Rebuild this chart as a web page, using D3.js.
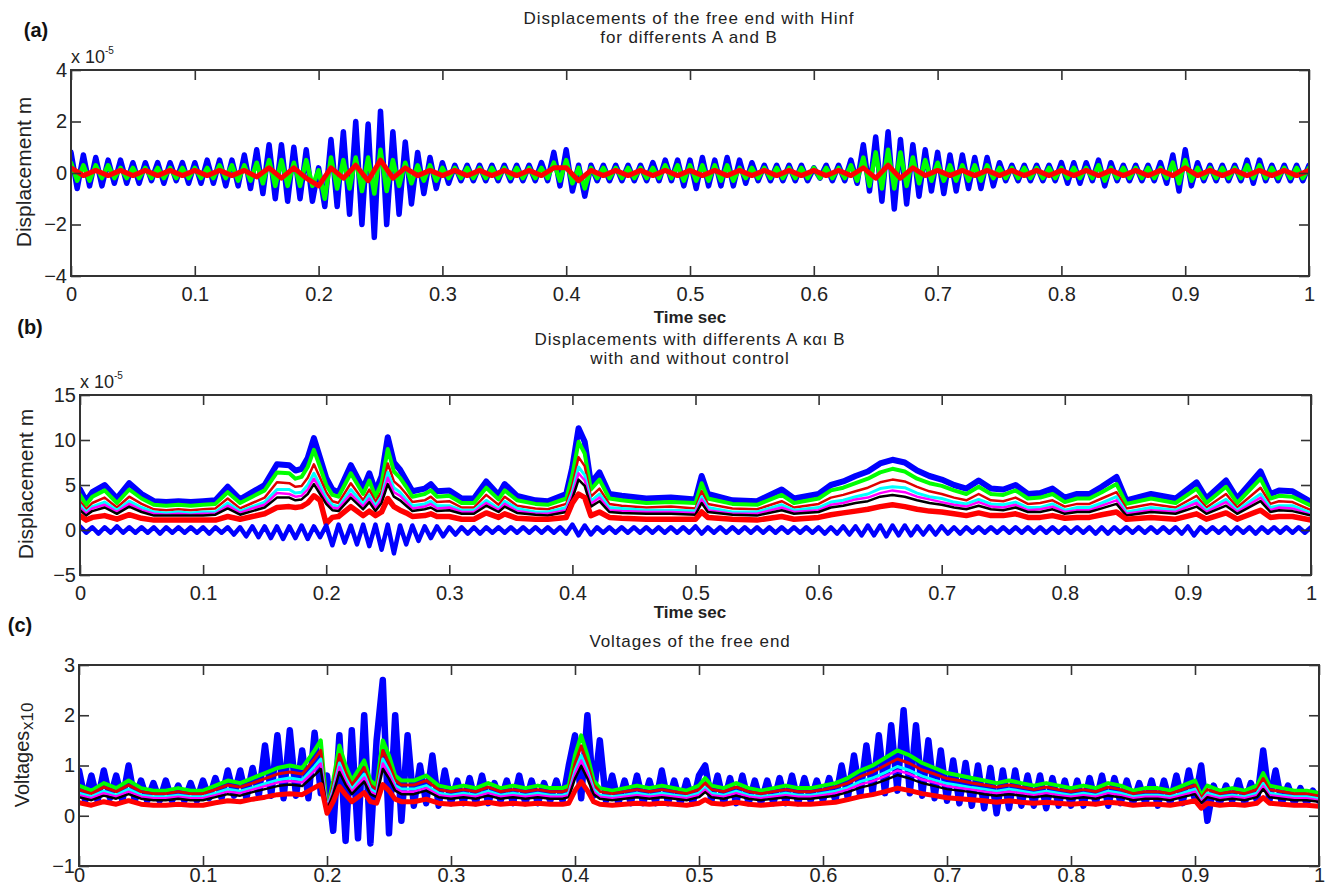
<!DOCTYPE html>
<html><head><meta charset="utf-8">
<script src="https://cdn.jsdelivr.net/npm/d3@7"></script>
<style>
body{margin:0;background:#fff}
svg{display:block}
text{font-family:"Liberation Sans",Arial,sans-serif}
</style>
</head><body>
<svg id="chart" width="1326" height="888"></svg>
<script>
// ---------------- DATA ----------------
const xTickVals = [0,0.1,0.2,0.3,0.4,0.5,0.6,0.7,0.8,0.9,1];
const xTickLabels = ["0","0.1","0.2","0.3","0.4","0.5","0.6","0.7","0.8","0.9","1"];
const aYTicks = [-4,-2,0,2,4];
const aYLabels = ["\u22124","\u22122","0","2","4"];
const bYTicks = [-5,0,5,10,15];
const bYLabels = ["\u22125","0","5","10","15"];
const cYTicks = [-1,0,1,2,3];
const cYLabels = ["\u22121","0","1","2","3"];

// sampling grids (s)
const tFine = d3.range(201).map(i => i * 0.005);
const tCoarse = d3.range(101).map(i => i * 0.01);

// Panel (a): displacement x1e-5 m
const aBlue = [
0.8,-0.6,0.7,-0.5,0.6,-0.5,0.5,-0.4,0.5,-0.4,
0.4,-0.4,0.4,-0.3,0.4,-0.4,0.4,-0.3,0.4,-0.4,
0.4,-0.4,0.5,-0.4,0.5,-0.5,0.5,-0.5,0.7,-0.6,
0.9,-0.8,1.1,-1.0,1.1,-1.1,1.0,-1.0,0.9,-1.1,
0.2,-1.3,1.3,-1.3,1.6,-1.6,2.0,-2.0,1.9,-2.5,
2.4,-2.0,1.6,-1.6,1.2,-1.2,0.8,-0.8,0.6,-0.6,
0.4,-0.4,0.3,-0.3,0.3,-0.3,0.3,-0.3,0.3,-0.3,
0.3,-0.3,0.3,-0.3,0.3,-0.3,0.4,-0.3,0.8,-0.5,
0.9,-0.7,0.3,-0.9,0.3,-0.3,0.3,-0.3,0.3,-0.3,
0.3,-0.3,0.3,-0.3,0.4,-0.3,0.5,-0.3,0.5,-0.5,
0.5,-0.6,0.6,-0.5,0.5,-0.5,0.6,-0.5,0.5,-0.4,
0.4,-0.3,0.3,-0.3,0.3,-0.3,0.3,-0.3,0.3,-0.3,
0.2,-0.2,0.3,-0.3,0.3,-0.3,0.5,-0.4,1.1,-0.7,
1.4,-1.1,1.6,-1.4,1.3,-1.2,1.1,-0.9,0.9,-0.7,
0.8,-0.8,0.7,-0.7,0.7,-0.6,0.6,-0.6,0.6,-0.5,
0.4,-0.3,0.3,-0.3,0.3,-0.3,0.3,-0.3,0.3,-0.3,
0.4,-0.4,0.4,-0.4,0.4,-0.3,0.5,-0.5,0.4,-0.3,
0.3,-0.3,0.3,-0.3,0.3,-0.3,0.4,-0.4,0.7,-0.7,
0.9,-0.5,0.4,-0.3,0.3,-0.3,0.3,-0.3,0.3,-0.3,
0.5,-0.4,0.5,-0.3,0.3,-0.3,0.3,-0.3,0.3,-0.3,
0.3];
const aGreen = [
0.4,-0.3,0.3,-0.3,0.3,-0.2,0.3,-0.2,0.2,-0.2,
0.2,-0.2,0.2,-0.2,0.2,-0.2,0.2,-0.2,0.2,-0.2,
0.2,-0.2,0.2,-0.2,0.3,-0.2,0.3,-0.3,0.3,-0.3,
0.4,-0.4,0.5,-0.5,0.5,-0.5,0.4,-0.5,0.5,-0.5,
0.1,-1.0,0.6,-0.6,0.5,-0.6,0.6,-0.7,0.6,-0.8,
0.9,-0.7,0.5,-0.5,0.4,-0.4,0.3,-0.3,0.3,-0.3,
0.2,-0.2,0.2,-0.2,0.2,-0.2,0.2,-0.2,0.2,-0.2,
0.2,-0.2,0.2,-0.2,0.2,-0.2,0.2,-0.2,0.4,-0.3,
0.5,-0.4,0.2,-0.6,0.2,-0.2,0.2,-0.2,0.2,-0.2,
0.2,-0.2,0.2,-0.2,0.2,-0.2,0.3,-0.2,0.3,-0.3,
0.3,-0.3,0.3,-0.3,0.3,-0.3,0.3,-0.3,0.2,-0.2,
0.2,-0.2,0.2,-0.2,0.2,-0.2,0.2,-0.2,0.2,-0.2,
0.2,-0.2,0.2,-0.2,0.2,-0.2,0.3,-0.3,0.6,-0.5,
0.8,-0.6,0.9,-0.6,0.8,-0.5,0.6,-0.4,0.5,-0.3,
0.4,-0.3,0.3,-0.3,0.3,-0.3,0.3,-0.3,0.3,-0.2,
0.2,-0.2,0.2,-0.2,0.2,-0.2,0.2,-0.2,0.2,-0.2,
0.2,-0.2,0.2,-0.2,0.2,-0.2,0.3,-0.3,0.2,-0.2,
0.2,-0.2,0.2,-0.2,0.2,-0.2,0.2,-0.2,0.4,-0.4,
0.5,-0.3,0.2,-0.2,0.2,-0.2,0.2,-0.2,0.2,-0.2,
0.3,-0.2,0.3,-0.2,0.2,-0.2,0.2,-0.2,0.2,-0.2,
0.2];
const aRed = [
0.2,-0.1,0.1,-0.1,0.1,-0.1,0.1,-0.1,0.1,-0.1,
0.1,-0.1,0.1,-0.1,0.1,-0.15,0.2,-0.2,0.2,-0.2,
-0.5,0.2,-0.2,0.3,-0.3,0.5,-0.2,0.2,-0.1,0.1,
-0.1,0.1,-0.1,0.1,-0.1,0.1,-0.1,0.1,-0.1,0.2,
0.2,-0.3,0.1,-0.1,0.1,-0.1,0.1,-0.1,0.1,-0.1,
0.1,-0.1,0.1,-0.1,0.1,-0.1,0.1,-0.1,0.1,-0.1,
0.1,-0.1,0.1,-0.1,0.2,-0.2,0.3,-0.2,0.2,-0.1,
0.1,-0.1,0.1,-0.1,0.1,-0.1,0.1,-0.1,0.1,-0.1,
0.1,-0.1,0.1,-0.1,0.1,-0.1,0.1,-0.1,0.1,-0.1,
0.2,-0.1,0.1,-0.1,0.1,-0.1,0.1,-0.1,0.1,-0.1,
0.1];

// Panel (b): displacement x1e-5 m, shared time base for the stacked curves
const tB = [
0,0.005,0.01,0.02,0.03,0.04,0.05,0.06,0.07,0.08,
0.09,0.1,0.11,0.12,0.13,0.14,0.15,0.16,0.17,0.175,
0.18,0.185,0.19,0.195,0.2,0.205,0.21,0.22,0.23,0.235,
0.24,0.245,0.25,0.255,0.26,0.265,0.27,0.28,0.285,0.29,
0.3,0.31,0.32,0.33,0.34,0.345,0.355,0.37,0.38,0.395,
0.4,0.405,0.41,0.415,0.422,0.43,0.44,0.46,0.48,0.5,
0.505,0.51,0.53,0.55,0.57,0.58,0.6,0.61,0.62,0.63,
0.64,0.65,0.66,0.67,0.68,0.69,0.7,0.71,0.72,0.73,
0.74,0.75,0.76,0.77,0.78,0.79,0.8,0.81,0.82,0.83,
0.842,0.85,0.87,0.89,0.907,0.915,0.931,0.94,0.959,0.967,
0.974,0.985,1.0];
const bBlueTop = [
4.5,3.2,4.2,5.0,3.5,5.2,4.0,3.2,3.1,3.2,
3.1,3.2,3.3,4.8,3.4,4.2,5.0,7.3,7.2,6.6,
6.8,8.0,10.2,8.0,5.8,4.5,4.2,7.2,4.6,6.3,
4.3,6.0,10.3,7.5,6.7,5.5,4.3,4.6,5.1,4.3,
4.4,3.5,3.5,5.4,3.9,5.1,3.8,3.3,3.2,4.0,
7.0,11.3,9.8,5.2,6.4,4.0,3.8,3.5,3.6,3.4,
6.0,4.0,3.3,3.2,4.5,3.5,4.0,5.0,5.4,6.0,
6.5,7.4,7.8,7.5,6.6,6.0,5.6,5.0,4.6,5.5,
4.6,4.5,5.0,4.0,4.1,4.6,3.6,4.0,4.0,4.8,
5.9,3.3,4.0,3.5,5.3,3.5,5.5,3.5,6.5,4.0,
4.4,4.3,3.1];
const bGreen = [
3.9,2.8,3.7,4.4,3.0,4.5,3.5,2.8,2.7,2.8,
2.7,2.8,2.9,4.2,3.0,3.7,4.4,6.4,6.3,5.7,
5.9,7.0,8.9,7.0,5.0,3.9,3.7,6.3,4.0,5.5,
3.7,5.2,9.0,6.5,5.8,4.8,3.7,4.0,4.4,3.7,
3.8,3.0,3.0,4.7,3.4,4.4,3.3,2.9,2.8,3.5,
6.1,9.8,8.5,4.5,5.6,3.5,3.3,3.0,3.1,3.0,
5.2,3.5,2.9,2.8,3.9,3.0,3.5,4.4,4.7,5.2,
5.7,6.4,6.8,6.5,5.7,5.2,4.9,4.4,4.0,4.8,
4.0,3.9,4.4,3.5,3.6,4.0,3.1,3.5,3.5,4.2,
5.1,2.9,3.5,3.0,4.6,3.0,4.8,3.0,5.7,3.5,
3.8,3.7,2.7];
const bDarkRed = [
3.2,2.3,3.0,3.6,2.5,3.7,2.9,2.3,2.2,2.3,
2.2,2.3,2.4,3.5,2.4,3.0,3.6,5.3,5.2,4.8,
4.9,5.8,7.3,5.8,4.2,3.2,3.0,5.2,3.3,4.5,
3.1,4.3,7.4,5.4,4.8,4.0,3.1,3.3,3.7,3.1,
3.2,2.5,2.5,3.9,2.8,3.7,2.7,2.4,2.3,2.9,
5.0,8.1,7.1,3.7,4.6,2.9,2.7,2.5,2.6,2.4,
4.3,2.9,2.4,2.3,3.2,2.5,2.9,3.6,3.9,4.3,
4.7,5.3,5.6,5.4,4.8,4.3,4.0,3.6,3.3,4.0,
3.3,3.2,3.6,2.9,3.0,3.3,2.6,2.9,2.9,3.5,
4.2,2.4,2.9,2.5,3.8,2.5,4.0,2.5,4.7,2.9,
3.2,3.1,2.2];
const bCyan = [
2.8,2.0,2.6,3.1,2.2,3.2,2.5,2.0,1.9,2.0,
1.9,2.0,2.0,3.0,2.1,2.6,3.1,4.5,4.5,4.1,
4.2,5.0,6.3,5.0,3.6,2.8,2.6,4.5,2.9,3.9,
2.7,3.7,6.4,4.7,4.2,3.4,2.7,2.9,3.2,2.7,
2.7,2.2,2.2,3.3,2.4,3.2,2.4,2.0,2.0,2.5,
4.3,7.0,6.1,3.2,4.0,2.5,2.4,2.2,2.2,2.1,
3.7,2.5,2.0,2.0,2.8,2.2,2.5,3.1,3.3,3.7,
4.0,4.6,4.8,4.7,4.1,3.7,3.5,3.1,2.9,3.4,
2.9,2.8,3.1,2.5,2.5,2.9,2.2,2.5,2.5,3.0,
3.7,2.0,2.5,2.2,3.3,2.2,3.4,2.2,4.0,2.5,
2.7,2.7,1.9];
const bMagenta = [
2.5,1.8,2.4,2.8,2.0,2.9,2.2,1.8,1.7,1.8,
1.7,1.8,1.8,2.7,1.9,2.4,2.8,4.1,4.0,3.7,
3.8,4.5,5.7,4.5,3.2,2.5,2.4,4.0,2.6,3.5,
2.4,3.4,5.8,4.2,3.8,3.1,2.4,2.6,2.9,2.4,
2.5,2.0,2.0,3.0,2.2,2.9,2.1,1.8,1.8,2.2,
3.9,6.3,5.5,2.9,3.6,2.2,2.1,2.0,2.0,1.9,
3.4,2.2,1.8,1.8,2.5,2.0,2.2,2.8,3.0,3.4,
3.6,4.1,4.4,4.2,3.7,3.4,3.1,2.8,2.6,3.1,
2.6,2.5,2.8,2.2,2.3,2.6,2.0,2.2,2.2,2.7,
3.3,1.8,2.2,2.0,3.0,2.0,3.1,2.0,3.6,2.2,
2.5,2.4,1.7];
const bBlack = [
2.2,1.6,2.1,2.5,1.8,2.6,2.0,1.6,1.6,1.6,
1.6,1.6,1.7,2.4,1.7,2.1,2.5,3.6,3.6,3.3,
3.4,4.0,5.1,4.0,2.9,2.2,2.1,3.6,2.3,3.1,
2.1,3.0,5.1,3.7,3.3,2.7,2.1,2.3,2.5,2.1,
2.2,1.8,1.8,2.7,2.0,2.6,1.9,1.7,1.6,2.0,
3.5,5.6,4.9,2.6,3.2,2.0,1.9,1.8,1.8,1.7,
3.0,2.0,1.7,1.6,2.2,1.8,2.0,2.5,2.7,3.0,
3.2,3.7,3.9,3.7,3.3,3.0,2.8,2.5,2.3,2.7,
2.3,2.2,2.5,2.0,2.0,2.3,1.8,2.0,2.0,2.4,
2.9,1.6,2.0,1.8,2.6,1.8,2.7,1.8,3.2,2.0,
2.2,2.1,1.6];
const bRed = [
1.6,1.1,1.4,1.6,1.2,1.7,1.3,1.1,1.1,1.1,
1.1,1.1,1.1,1.5,1.2,1.5,1.8,2.5,2.6,2.5,
2.6,3.0,3.8,3.3,0.7,1.4,1.5,2.6,1.6,2.1,
1.6,2.0,3.5,2.6,2.2,1.9,1.5,1.6,1.8,1.5,
1.5,1.2,1.2,1.9,1.4,1.8,1.3,1.2,1.2,1.4,
3.0,4.0,3.6,1.6,2.0,1.4,1.3,1.2,1.2,1.2,
2.0,1.4,1.2,1.1,1.5,1.2,1.4,1.7,1.9,2.1,
2.3,2.6,2.8,2.6,2.3,2.1,2.0,1.8,1.6,1.9,
1.6,1.6,1.8,1.4,1.4,1.6,1.3,1.4,1.4,1.7,
2.0,1.2,1.4,1.2,1.8,1.2,1.9,1.2,2.2,1.4,
1.5,1.5,1.1];
const bBlueZero = [
0.4,-0.3,0.3,-0.4,0.3,-0.3,0.4,-0.3,0.3,-0.3,
0.3,-0.3,0.3,-0.4,0.3,-0.3,0.3,-0.3,0.3,-0.3,
0.3,-0.4,0.3,-0.3,0.3,-0.5,0.3,-0.7,0.4,-0.8,
0.4,-0.9,0.4,-1.0,0.4,-0.9,0.5,-1.0,0.4,-0.8,
0.5,-1.7,0.6,-1.4,0.5,-1.6,0.6,-1.8,0.6,-2.2,
0.6,-2.6,0.5,-1.6,0.5,-1.2,0.4,-0.9,0.4,-0.7,
0.3,-0.5,0.3,-0.4,0.3,-0.4,0.3,-0.3,0.3,-0.3,
0.3,-0.3,0.3,-0.3,0.3,-0.3,0.3,-0.3,0.3,-0.4,
0.6,-0.6,0.5,-0.5,0.3,-0.3,0.3,-0.3,0.3,-0.3,
0.3,-0.3,0.3,-0.3,0.3,-0.3,0.3,-0.3,0.3,-0.3,
0.4,-0.4,0.3,-0.3,0.3,-0.3,0.3,-0.3,0.3,-0.3,
0.3,-0.3,0.3,-0.3,0.3,-0.3,0.3,-0.3,0.3,-0.3,
0.3,-0.4,0.3,-0.4,0.4,-0.5,0.4,-0.6,0.5,-0.6,
0.5,-0.7,0.5,-0.6,0.5,-0.6,0.4,-0.5,0.4,-0.5,
0.4,-0.4,0.3,-0.4,0.3,-0.3,0.3,-0.3,0.3,-0.3,
0.3,-0.3,0.3,-0.3,0.3,-0.3,0.3,-0.3,0.3,-0.3,
0.3,-0.3,0.3,-0.3,0.3,-0.4,0.3,-0.4,0.3,-0.3,
0.3,-0.3,0.3,-0.3,0.3,-0.3,0.3,-0.3,0.3,-0.4,
0.4,-0.6,0.3,-0.3,0.3,-0.3,0.3,-0.4,0.3,-0.3,
0.3,-0.4,0.3,-0.3,0.3,-0.3,0.3,-0.3,0.3,-0.3,
0.3];

// Panel (c): voltages x10, shared time base for the stacked curves
const tC = [
0,0.01,0.02,0.03,0.04,0.05,0.06,0.07,0.08,0.09,
0.1,0.11,0.12,0.13,0.14,0.15,0.16,0.17,0.18,0.19,
0.195,0.2,0.205,0.21,0.215,0.22,0.225,0.23,0.235,0.24,
0.245,0.25,0.255,0.26,0.27,0.28,0.29,0.3,0.31,0.32,
0.33,0.34,0.35,0.36,0.37,0.38,0.39,0.395,0.4,0.405,
0.41,0.415,0.42,0.43,0.44,0.45,0.46,0.47,0.48,0.49,
0.5,0.505,0.51,0.52,0.53,0.54,0.55,0.56,0.57,0.58,
0.59,0.6,0.61,0.62,0.63,0.64,0.65,0.66,0.67,0.68,
0.69,0.7,0.71,0.72,0.73,0.74,0.75,0.76,0.77,0.78,
0.79,0.8,0.81,0.82,0.83,0.84,0.85,0.86,0.87,0.88,
0.89,0.9,0.905,0.91,0.92,0.93,0.94,0.95,0.955,0.96,
0.97,0.98,0.99,1.0];
const cBlue = [
0.9,0.3,0.8,0.3,0.9,0.35,0.8,0.3,1.0,0.3,
0.7,0.3,0.65,0.3,0.7,0.3,0.6,0.3,0.65,0.3,
0.7,0.35,0.75,0.35,0.9,0.4,0.9,0.35,0.95,0.4,
1.4,0.4,1.6,0.35,1.7,0.4,1.3,0.35,1.65,0.45,
0.8,-0.3,1.6,-0.5,1.7,-0.45,2.0,-0.55,1.5,2.7,
-0.35,2.0,-0.1,1.6,0.2,1.0,0.25,1.2,0.2,0.9,
0.25,0.7,0.25,0.75,0.25,0.8,0.25,0.65,0.3,0.7,
0.25,0.8,0.25,0.7,0.25,0.65,0.3,0.7,0.3,1.0,
1.6,0.35,2.0,0.4,1.5,0.3,0.8,0.25,0.7,0.25,
0.8,0.25,0.7,0.25,0.9,0.25,0.7,0.25,0.7,0.25,
0.8,1.0,0.3,0.8,0.25,0.75,0.25,0.8,0.25,0.7,
0.25,0.7,0.25,0.75,0.25,0.8,0.25,0.75,0.3,0.7,
0.3,0.75,0.3,1.0,0.35,1.2,0.4,1.4,0.45,1.6,
0.45,1.8,0.5,2.1,0.45,1.8,0.4,1.5,0.35,1.3,
0.3,1.1,0.25,1.05,0.2,1.0,0.15,0.95,0.05,0.9,
0.15,0.9,0.2,0.8,0.2,0.8,0.15,0.75,0.2,0.7,
0.2,0.7,0.2,0.75,0.25,0.8,0.2,0.75,0.25,0.7,
0.25,0.65,0.25,0.7,0.2,0.7,0.25,0.8,0.25,0.9,
0.3,1.0,-0.1,0.6,0.25,0.6,0.3,0.7,0.25,0.65,
0.3,1.3,0.3,0.9,0.25,0.6,0.25,0.55,0.25,0.5,
0.3];
const cGreen = [
0.6,0.5,0.65,0.55,0.7,0.55,0.5,0.5,0.55,0.5,
0.5,0.6,0.7,0.65,0.75,0.85,0.95,1.0,0.95,1.3,
1.5,0.1,0.7,1.4,1.0,0.7,0.9,1.1,0.7,0.6,
1.5,1.2,0.8,0.7,0.7,0.8,0.6,0.55,0.6,0.55,
0.65,0.55,0.6,0.55,0.6,0.55,0.55,0.6,1.2,1.6,
1.2,0.7,0.55,0.5,0.55,0.6,0.55,0.6,0.55,0.5,
0.6,0.75,0.6,0.55,0.65,0.55,0.5,0.55,0.6,0.55,
0.55,0.6,0.65,0.75,0.9,1.0,1.15,1.3,1.2,1.05,
0.95,0.85,0.8,0.75,0.7,0.65,0.7,0.65,0.6,0.65,
0.6,0.55,0.6,0.55,0.65,0.6,0.5,0.55,0.55,0.5,
0.6,0.7,0.4,0.6,0.5,0.55,0.5,0.6,0.85,0.6,
0.55,0.5,0.5,0.45];
const cDarkRed = [
0.52,0.44,0.57,0.48,0.61,0.48,0.44,0.44,0.48,0.44,
0.44,0.52,0.61,0.57,0.65,0.74,0.83,0.87,0.83,1.13,
1.3,0.12,0.61,1.22,0.87,0.61,0.78,0.96,0.61,0.52,
1.3,1.04,0.7,0.61,0.61,0.7,0.52,0.48,0.52,0.48,
0.57,0.48,0.52,0.48,0.52,0.48,0.48,0.52,1.04,1.39,
1.04,0.61,0.48,0.44,0.48,0.52,0.48,0.52,0.48,0.44,
0.52,0.65,0.52,0.48,0.57,0.48,0.44,0.48,0.52,0.48,
0.48,0.52,0.57,0.65,0.78,0.87,1.0,1.13,1.04,0.91,
0.83,0.74,0.7,0.65,0.61,0.57,0.61,0.57,0.52,0.57,
0.52,0.48,0.52,0.48,0.57,0.52,0.44,0.48,0.48,0.44,
0.52,0.61,0.35,0.52,0.44,0.48,0.44,0.52,0.74,0.52,
0.48,0.44,0.44,0.39];
const cCyan = [
0.45,0.38,0.49,0.41,0.53,0.41,0.38,0.38,0.41,0.38,
0.38,0.45,0.53,0.49,0.56,0.64,0.71,0.75,0.71,0.98,
1.13,0.15,0.53,1.05,0.75,0.53,0.68,0.83,0.53,0.45,
1.13,0.9,0.6,0.53,0.53,0.6,0.45,0.41,0.45,0.41,
0.49,0.41,0.45,0.41,0.45,0.41,0.41,0.45,0.9,1.2,
0.9,0.53,0.41,0.38,0.41,0.45,0.41,0.45,0.41,0.38,
0.45,0.56,0.45,0.41,0.49,0.41,0.38,0.41,0.45,0.41,
0.41,0.45,0.49,0.56,0.68,0.75,0.86,0.98,0.9,0.79,
0.71,0.64,0.6,0.56,0.53,0.49,0.53,0.49,0.45,0.49,
0.45,0.41,0.45,0.41,0.49,0.45,0.38,0.41,0.41,0.38,
0.45,0.53,0.3,0.45,0.38,0.41,0.38,0.45,0.64,0.45,
0.41,0.38,0.38,0.34];
const cMagenta = [
0.41,0.35,0.45,0.38,0.48,0.38,0.35,0.35,0.38,0.35,
0.35,0.41,0.48,0.45,0.52,0.59,0.66,0.69,0.66,0.9,
1.04,0.14,0.48,0.97,0.69,0.48,0.62,0.76,0.48,0.41,
1.04,0.83,0.55,0.48,0.48,0.55,0.41,0.38,0.41,0.38,
0.45,0.38,0.41,0.38,0.41,0.38,0.38,0.41,0.83,1.1,
0.83,0.48,0.38,0.35,0.38,0.41,0.38,0.41,0.38,0.35,
0.41,0.52,0.41,0.38,0.45,0.38,0.35,0.38,0.41,0.38,
0.38,0.41,0.45,0.52,0.62,0.69,0.79,0.9,0.83,0.72,
0.66,0.59,0.55,0.52,0.48,0.45,0.48,0.45,0.41,0.45,
0.41,0.38,0.41,0.38,0.45,0.41,0.35,0.38,0.38,0.35,
0.41,0.48,0.28,0.41,0.35,0.38,0.35,0.41,0.59,0.41,
0.38,0.35,0.35,0.31];
const cBlack = [
0.37,0.31,0.4,0.34,0.43,0.34,0.31,0.31,0.34,0.31,
0.31,0.37,0.43,0.4,0.47,0.53,0.59,0.62,0.59,0.81,
0.93,0.12,0.43,0.87,0.62,0.43,0.56,0.68,0.43,0.37,
0.93,0.74,0.5,0.43,0.43,0.5,0.37,0.34,0.37,0.34,
0.4,0.34,0.37,0.34,0.37,0.34,0.34,0.37,0.74,0.99,
0.74,0.43,0.34,0.31,0.34,0.37,0.34,0.37,0.34,0.31,
0.37,0.47,0.37,0.34,0.4,0.34,0.31,0.34,0.37,0.34,
0.34,0.37,0.4,0.47,0.56,0.62,0.71,0.81,0.74,0.65,
0.59,0.53,0.5,0.47,0.43,0.4,0.43,0.4,0.37,0.4,
0.37,0.34,0.37,0.34,0.4,0.37,0.31,0.34,0.34,0.31,
0.37,0.43,0.25,0.37,0.31,0.34,0.31,0.37,0.53,0.37,
0.34,0.31,0.31,0.28];
const cRed = [
0.26,0.21,0.28,0.23,0.3,0.23,0.21,0.21,0.23,0.21,
0.21,0.26,0.3,0.28,0.33,0.37,0.42,0.44,0.42,0.56,
0.62,0.05,0.28,0.58,0.42,0.28,0.37,0.46,0.28,0.25,
0.62,0.5,0.33,0.28,0.28,0.33,0.25,0.23,0.25,0.23,
0.27,0.23,0.25,0.23,0.25,0.23,0.23,0.25,0.5,0.68,
0.5,0.28,0.23,0.21,0.23,0.25,0.23,0.25,0.23,0.21,
0.25,0.32,0.25,0.23,0.27,0.23,0.21,0.23,0.25,0.23,
0.23,0.25,0.27,0.32,0.38,0.42,0.48,0.55,0.5,0.44,
0.4,0.36,0.34,0.32,0.3,0.27,0.3,0.27,0.25,0.27,
0.25,0.23,0.25,0.23,0.27,0.25,0.21,0.23,0.23,0.21,
0.25,0.3,0.15,0.25,0.21,0.23,0.21,0.25,0.36,0.25,
0.23,0.21,0.21,0.19];

// ---------------- DRAWING ----------------
const svg = d3.select("#chart");
const defs = svg.append("defs");
const FONT = '"Liberation Sans", Arial, sans-serif';

function styleAxis(sel, size) {
  sel.select(".domain").remove();
  sel.selectAll(".tick line").attr("stroke", "#333").attr("stroke-width", 1.6);
  sel.selectAll(".tick text").attr("fill", "#222").style("font-size", size + "px").style("font-family", FONT);
}

function drawPanel(p) {
  const x = d3.scaleLinear().domain([0, 1]).range([p.left, p.right]);
  const y = d3.scaleLinear().domain(p.yDomain).range([p.bottom, p.top]);
  const g = svg.append("g");
  const clipId = "clip-" + p.id;
  defs.append("clipPath").attr("id", clipId).append("rect")
    .attr("x", x(0)).attr("y", y(p.yDomain[1]))
    .attr("width", x(1) - x(0)).attr("height", y(p.yDomain[0]) - y(p.yDomain[1]));
  const plot = g.append("g").attr("clip-path", `url(#${clipId})`);
  p.series.forEach(s => {
    if (s.t.length !== s.v.length) console.error("length mismatch", p.id, s.color, s.t.length, s.v.length);
    const n = Math.min(s.t.length, s.v.length);
    const line = d3.line().x((d, i) => x(s.t[i])).y(d => y(d));
    plot.append("path").attr("d", line(s.v.slice(0, n)))
      .attr("fill", "none").attr("stroke", s.color).attr("stroke-width", s.w)
      .attr("stroke-linejoin", "round").attr("stroke-linecap", "round");
  });
  const tl = 10;
  g.append("g").attr("transform", `translate(0,${y(p.yDomain[0])})`)
    .call(d3.axisBottom(x).tickValues(xTickVals).tickFormat((d, i) => xTickLabels[i])
      .tickSizeInner(-tl).tickSizeOuter(0).tickPadding(p.xPad))
    .call(s => styleAxis(s, 20));
  g.append("g").attr("transform", `translate(0,${y(p.yDomain[1])})`)
    .call(d3.axisTop(x).tickValues(xTickVals).tickFormat("").tickSizeInner(-tl).tickSizeOuter(0))
    .call(s => styleAxis(s, 20));
  g.append("g").attr("transform", `translate(${x(0)},0)`)
    .call(d3.axisLeft(y).tickValues(p.yTicks).tickFormat((d, i) => p.yLabels[i])
      .tickSizeInner(-tl).tickSizeOuter(0).tickPadding(4))
    .call(s => styleAxis(s, 20));
  g.append("g").attr("transform", `translate(${x(1)},0)`)
    .call(d3.axisRight(y).tickValues(p.yTicks).tickFormat("").tickSizeInner(-tl).tickSizeOuter(0))
    .call(s => styleAxis(s, 20));
  g.append("rect").attr("x", x(0)).attr("y", y(p.yDomain[1]))
    .attr("width", x(1) - x(0)).attr("height", y(p.yDomain[0]) - y(p.yDomain[1]))
    .attr("fill", "none").attr("stroke", "#333").attr("stroke-width", 2);
  return {x, y};
}

function txt(x, y, s, opt = {}) {
  const t = svg.append("text").attr("x", x).attr("y", y).text(s)
    .attr("fill", opt.fill || "#222")
    .style("font-size", (opt.size || 17) + "px")
    .style("font-weight", opt.weight || "normal")
    .style("letter-spacing", (opt.ls || 0) + "px")
    .attr("text-anchor", opt.anchor || "middle");
  if (opt.rotate) t.attr("transform", `rotate(-90,${x},${y})`);
  return t;
}

function exponent(x, y, base, exp) {
  const t = svg.append("text").attr("x", x).attr("y", y).attr("fill", "#222").style("font-size", "18px");
  t.append("tspan").text(base);
  t.append("tspan").attr("dy", -9).style("font-size", "10px").text(exp);
}

const TITLE = {size: 17, ls: 0.9};

// Panel (a)
drawPanel({
  id: "a", left: 71, right: 1309, top: 70, bottom: 276, yDomain: [-4, 4],
  yTicks: aYTicks, yLabels: aYLabels, xPad: 11,
  series: [
    {t: tFine, v: aBlue, color: "#0000ff", w: 5.5},
    {t: tFine, v: aGreen, color: "#00ff00", w: 4.5},
    {t: tCoarse, v: aRed, color: "#ff0000", w: 5}
  ]
});
txt(36, 37, "(a)", {size: 20, weight: "bold", fill: "#111"});
txt(689, 24, "Displacements of the free end with Hinf", TITLE);
txt(689, 43, "for differents A and B", TITLE);
exponent(71, 63, "x 10", "-5");
txt(31, 172, "Displacement m", {rotate: true, size: 21});
txt(690, 323, "Time sec", {size: 17, weight: "bold"});

// Panel (b)
drawPanel({
  id: "b", left: 80, right: 1311, top: 395, bottom: 575, yDomain: [-5, 15],
  yTicks: bYTicks, yLabels: bYLabels, xPad: 11,
  series: [
    {t: tB, v: bBlueTop, color: "#0000ff", w: 6},
    {t: tB, v: bGreen, color: "#00ff00", w: 4},
    {t: tB, v: bDarkRed, color: "#e00000", w: 2.5},
    {t: tB, v: bCyan, color: "#00ffff", w: 3},
    {t: tB, v: bMagenta, color: "#ff00ff", w: 2.5},
    {t: tB, v: bBlack, color: "#000000", w: 2.5},
    {t: tB, v: bRed, color: "#ff0000", w: 5.5},
    {t: tFine, v: bBlueZero, color: "#0000ff", w: 4.5}
  ]
});
txt(30, 334, "(b)", {size: 20, weight: "bold", fill: "#111"});
txt(690, 345, "Displacements with differents A \u03BA\u03B1\u03B9 B", TITLE);
txt(690, 364, "with and without control", TITLE);
exponent(80, 388, "x 10", "-5");
txt(33, 484, "Displacement m", {rotate: true, size: 21});
txt(690, 618, "Time sec", {size: 17, weight: "bold"});

// Panel (c)
drawPanel({
  id: "c", left: 79, right: 1319, top: 665, bottom: 866, yDomain: [-1, 3],
  yTicks: cYTicks, yLabels: cYLabels, xPad: 2,
  series: [
    {t: tFine, v: cBlue, color: "#0000ff", w: 6.5},
    {t: tC, v: cGreen, color: "#00ff00", w: 4},
    {t: tC, v: cDarkRed, color: "#e00000", w: 3},
    {t: tC, v: cCyan, color: "#00ffff", w: 3},
    {t: tC, v: cMagenta, color: "#ff00ff", w: 2.5},
    {t: tC, v: cBlack, color: "#000000", w: 2.5},
    {t: tC, v: cRed, color: "#ff0000", w: 5}
  ]
});
txt(20, 632, "(c)", {size: 20, weight: "bold", fill: "#111"});
txt(690, 647, "Voltages of the free end", TITLE);
txt(29, 769, "Voltages", {rotate: true, size: 20});
txt(33, 730, "x10", {rotate: true, size: 17, anchor: "start"});
</script>
</body></html>
